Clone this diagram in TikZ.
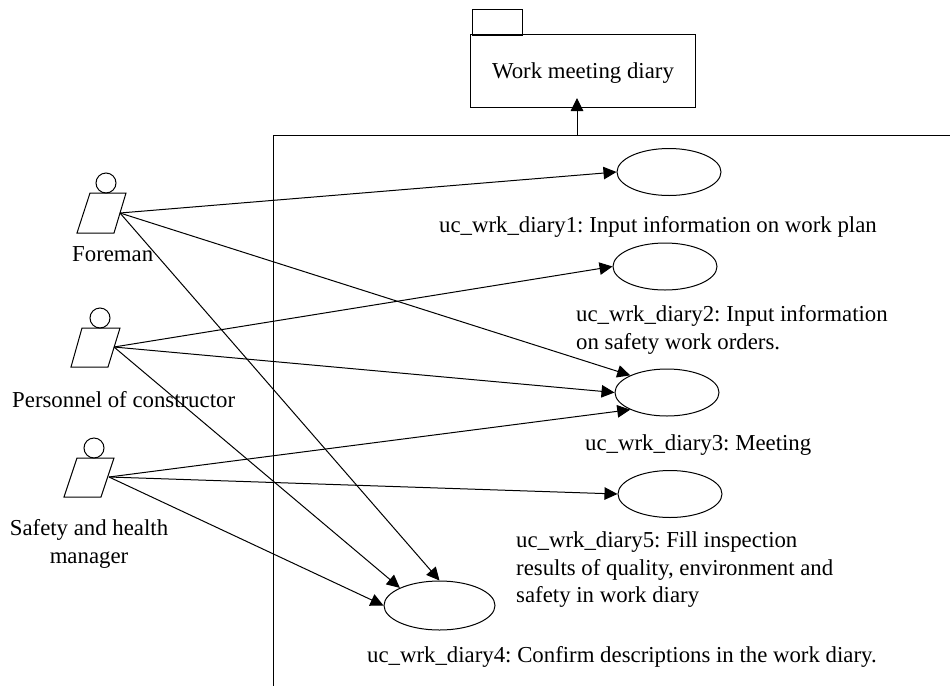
\documentclass[tikz,border=0pt]{standalone}
\usepackage{fontspec}
\setmainfont{Liberation Serif}
\usetikzlibrary{shapes.geometric,arrows.meta}
\tikzset{
  usecase/.style={draw,line width=1pt,ellipse,minimum width=104pt,minimum height=47pt,inner sep=0pt},
  head/.style={draw,line width=1pt,circle,minimum size=20pt,inner sep=0pt},
  lbl/.style={inner sep=0pt,align=left,font=\fontsize{22.8}{27}\selectfont\frenchspacing},
  assoc/.style={line width=1pt,-{Triangle[length=13pt,width=12.5pt]}},
  edge/.style={line width=1pt}
}
\begin{document}
\begin{tikzpicture}[x=1pt,y=-1pt]
\useasboundingbox (0,0) rectangle (950,686);
% package
\draw[edge] (472,9) rectangle (522,35);
\node[draw,line width=1pt,minimum width=225pt,minimum height=73pt,inner sep=0pt] (pkg) at (582.5,70.5) {};
\node[lbl,anchor=base] (pkgl) at (583,78) {Work meeting diary};
% system boundary
\coordinate (sysNW) at (273,135);
\coordinate (sysNE) at (950,135);
\coordinate (sysSW) at (273,686);
\coordinate (sysTop) at (577,135);
\coordinate (pkgTip) at (577,98);
\draw[edge] (sysNE) -- (sysNW) -- (sysSW);
\draw[assoc] (sysTop) -- (pkgTip);
% use cases
\node[usecase] (e1) at (669,172) {};
\node[usecase] (e2) at (665,266.5) {};
\node[usecase] (e3) at (667,392.5) {};
\node[usecase] (e5) at (670,494) {};
\node[usecase,minimum width=111pt,minimum height=49pt] (e4) at (439.5,605.5) {};
% actors
\node[head] (h1) at (106,183) {};
\node[head] (h2) at (100,318) {};
\node[head] (h3) at (94,448) {};
\coordinate (a1) at (120,213);
\coordinate (a2) at (114,347);
\coordinate (a3) at (109,477);
\draw[edge] (90,193) -- (126,193) -- (114,233) -- (77,233) -- cycle;
\draw[edge] (82,328) -- (120,328) -- (108,367) -- (71,367) -- cycle;
\draw[edge] (77,458) -- (114,458) -- (101,497) -- (64,497) -- cycle;
% labels
\node[lbl,anchor=base west] (l1) at (72,261) {Foreman};
\node[lbl,anchor=base west] (l2) at (12,407) {Personnel of constructor};
\node[lbl,anchor=base,align=center] (l3) at (89,535) {Safety and health};
\node[lbl,anchor=base,align=center] (l3b) at (89,563) {manager};
\node[lbl,anchor=base west] (t1) at (439,232) {uc\_wrk\_diary1: Input information on work plan};
\node[lbl,anchor=base west] (t2a) at (576,321) {uc\_wrk\_diary2: Input information};
\node[lbl,anchor=base west] (t2b) at (576,349) {on safety work orders.};
\node[lbl,anchor=base west] (t3) at (585,450) {uc\_wrk\_diary3: Meeting};
\node[lbl,anchor=base west] (t5a) at (516,547) {uc\_wrk\_diary5: Fill inspection};
\node[lbl,anchor=base west] (t5b) at (516,575) {results of quality, environment and};
\node[lbl,anchor=base west] (t5c) at (516,602) {safety in work diary};
\node[lbl,anchor=base west] (t4) at (367,662) {uc\_wrk\_diary4: Confirm descriptions in the work diary.};
% associations
\draw[assoc] (a1) -- (e1.west);
\draw[assoc] (a1) -- (e3.155);
\draw[assoc] (a1) -- (e4.north);
\draw[assoc] (a2) -- (e2.west);
\draw[assoc] (a2) -- (e3.west);
\draw[assoc] (a2) -- (e4.156);
\draw[assoc] (a3) -- (e3.205);
\draw[assoc] (a3) -- (e5.west);
\draw[assoc] (a3) -- (e4.west);
\end{tikzpicture}
\end{document}
